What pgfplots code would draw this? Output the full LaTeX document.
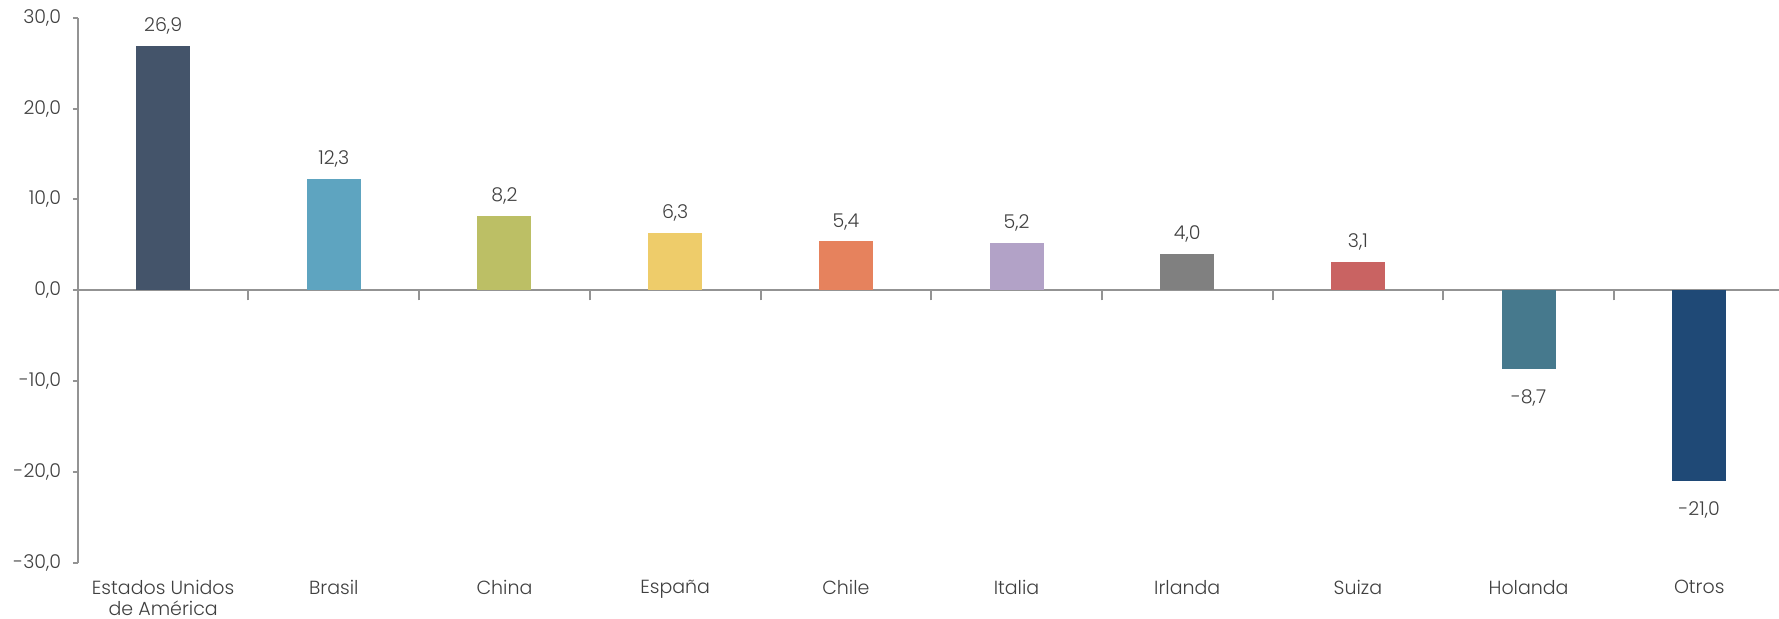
\documentclass[border=0pt]{standalone}
\usepackage{pgfplots}
\pgfplotsset{compat=1.18}
\usepackage{fontspec}
\setmainfont{Poppins}[UprightFont=* Light]

\definecolor{cA}{HTML}{44546A}
\definecolor{cB}{HTML}{5EA4C0}
\definecolor{cC}{HTML}{BCBF65}
\definecolor{cD}{HTML}{EECC6A}
\definecolor{cE}{HTML}{E6825D}
\definecolor{cF}{HTML}{B2A2C7}
\definecolor{cG}{HTML}{808080}
\definecolor{cH}{HTML}{C96362}
\definecolor{cI}{HTML}{46798D}
\definecolor{cJ}{HTML}{1F4976}
\definecolor{txt}{HTML}{404040}

\begin{document}
\begin{tikzpicture}
\begin{axis}[
  scale only axis,
  width=853.4pt, height=272.65pt,
  xmin=-0.5, xmax=9.5, ymin=-30, ymax=30,
  axis x line=middle, axis y line=left,
  axis line style={-, draw=gray!85, line width=1pt},
  hide obscured x ticks=false, hide obscured y ticks=false,
  ybar, bar width=27pt,
  ytick={-30,-20,...,30},
  xtick={0,...,9},
  xticklabels={{Estados Unidos\\de América},Brasil,China,España,Chile,Italia,Irlanda,Suiza,Holanda,Otros},
  minor xtick={0.5,1.5,...,8.5},
  major x tick style={draw=none},
  minor x tick style={draw=gray!85, line width=1pt},
  minor tick length=5pt,
  xtick align=outside,
  ytick style={draw=gray!85, line width=1pt},
  ytick align=outside, major tick length=2.5pt,
  tick label style={font=\fontsize{9.5}{10.5}\selectfont, text=txt},
  xticklabel style={align=center, anchor=north, yshift=-139pt},
  yticklabel style={anchor=east, xshift=-2.3pt},
  /pgf/number format/.cd, fixed, fixed zerofill, precision=1, use comma, assume math mode=true,
  /pgfplots/.cd,
  nodes near coords,
  every node near coord/.append style={font=\fontsize{9.5}{10.5}\selectfont, text=txt, inner sep=5.5pt},
  every axis plot/.append style={bar shift=0pt, draw=none},
  clip=false,
]
\addplot[fill=cA] coordinates {(0,26.9)};
\addplot[fill=cB] coordinates {(1,12.3)};
\addplot[fill=cC] coordinates {(2,8.2)};
\addplot[fill=cD] coordinates {(3,6.3)};
\addplot[fill=cE] coordinates {(4,5.4)};
\addplot[fill=cF] coordinates {(5,5.2)};
\addplot[fill=cG] coordinates {(6,4.0)};
\addplot[fill=cH] coordinates {(7,3.1)};
\addplot[fill=cI, every node near coord/.append style={yshift=-4.5pt}] coordinates {(8,-8.7)};
\addplot[fill=cJ, every node near coord/.append style={yshift=-4.5pt}] coordinates {(9,-21.0)};
\end{axis}
\pgfresetboundingbox
\path (current axis.south west) ++(-38.9pt,-28pt) coordinate (bbA);
\path (current axis.north west) ++(850.6pt,8.85pt) coordinate (bbB);
\path[use as bounding box] (bbA) rectangle (bbB);
\end{tikzpicture}
\end{document}
